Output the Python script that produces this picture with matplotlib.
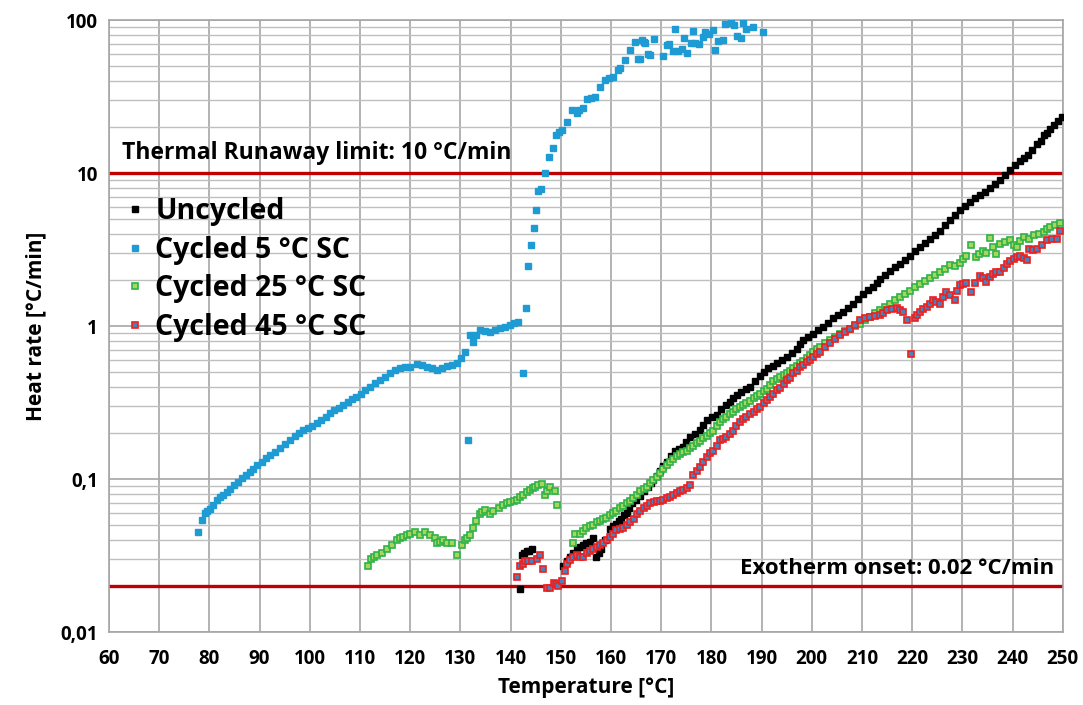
import numpy as np
import matplotlib
matplotlib.use("Agg")
import matplotlib.pyplot as plt

plt.rcParams['font.family'] = ['Open Sans', 'DejaVu Sans']
plt.rcParams['font.weight'] = 'bold'

# Cycled 5 degC SC (blue)
t_c5 = [77.8, 78.5, 79.1, 79.6, 80.1, 80.8, 81.5, 82.2, 82.8, 83.5, 84.1, 84.9, 85.8, 86.6, 87.4,
        88.0, 88.7, 89.5, 90.4, 91.2, 92.1, 93.1, 94.1, 95.1, 96.1, 97.0, 97.8, 98.7, 99.6, 100.5,
        101.4, 102.3, 103.2, 104.0, 104.9, 105.8, 106.7, 107.6, 108.4, 109.3, 110.2, 111.1, 112.0,
        113.0, 114.0, 115.0, 116.0, 117.0, 118.0, 119.0, 120.0, 121.3, 122.3, 123.3, 124.3, 125.3,
        126.3, 127.3, 128.3, 129.3, 130.2, 130.9, 131.6, 131.9, 132.6, 133.2, 133.9, 134.9, 135.9,
        136.9, 137.9, 138.9, 139.9, 140.7, 141.5, 142.5, 143.1, 143.5, 144.1, 144.6, 145.1, 145.5,
        146.1, 146.9, 147.7, 148.5, 149.0, 149.6, 150.2, 151.2, 152.2, 153.2, 153.7, 154.5, 155.2,
        156.0, 156.8, 157.8, 158.8, 159.6, 160.5, 161.5, 161.8, 162.8, 163.8, 164.8, 165.4, 165.8,
        166.1, 166.5, 166.8, 167.4, 167.8, 168.6, 170.4, 171.1, 171.6, 172.3, 172.7, 173.4, 174.1,
        174.6, 175.1, 175.9, 176.3, 176.7, 177.5, 178.3, 178.7, 179.5, 180.4, 180.7, 181.4, 182.3,
        182.7, 184.0, 184.5, 185.2, 185.9, 186.4, 186.9, 188.2, 190.3]
r_c5 = [0.045, 0.054, 0.060, 0.062, 0.064, 0.068, 0.073, 0.076, 0.079, 0.082, 0.086, 0.091, 0.096,
        0.101, 0.106, 0.111, 0.117, 0.123, 0.130, 0.137, 0.143, 0.151, 0.159, 0.169, 0.180, 0.190,
        0.199, 0.209, 0.216, 0.223, 0.231, 0.243, 0.256, 0.269, 0.281, 0.293, 0.305, 0.318, 0.331,
        0.345, 0.362, 0.381, 0.401, 0.422, 0.443, 0.467, 0.491, 0.513, 0.530, 0.537, 0.543, 0.565,
        0.556, 0.543, 0.528, 0.515, 0.535, 0.548, 0.558, 0.570, 0.620, 0.680, 0.180, 0.873, 0.790,
        0.880, 0.940, 0.930, 0.920, 0.945, 0.966, 0.990, 1.02, 1.04, 1.07, 0.495, 1.32, 2.47, 3.39,
        4.36, 5.73, 7.66, 7.85, 9.96, 12.7, 14.5, 17.7, 18.5, 19.1, 21.6, 25.8, 24.5, 26.0, 26.5,
        30.3, 30.8, 31.6, 36.7, 40.5, 41.5, 42.6, 47.0, 48.3, 54.8, 63.7, 72.1, 55.4, 55.4, 74.0,
        72.0, 70.4, 59.6, 59.0, 74.8, 58.4, 68.7, 69.4, 63.0, 86.9, 63.0, 64.3, 76.6, 61.2, 71.0,
        84.7, 70.4, 70.0, 77.8, 83.1, 81.0, 86.1, 63.7, 73.0, 74.0, 93.7, 96.0, 92.8, 78.6, 75.9,
        96.0, 86.9, 90.4, 83.1]

# Cycled 25 degC SC (green)
t_c25 = [111.7, 112.3, 112.8, 113.3, 114.3, 115.3, 116.3, 117.3, 118.0, 118.6, 119.3, 120.0, 121.0,
         122.0, 123.0, 124.0, 124.9, 125.3, 126.0, 126.6, 127.3, 128.3, 129.3, 130.3, 130.9, 131.4,
         131.9, 132.6, 133.2, 133.9, 134.4, 134.9, 135.9, 136.6, 137.6, 138.5, 139.2, 139.9, 140.6,
         141.2, 141.8, 142.5, 143.2, 143.9, 144.4, 144.9, 145.5, 146.2, 146.9, 147.3, 147.8, 148.8,
         149.3, 152.5, 152.8, 153.8, 154.4, 155.1, 155.8, 156.5, 157.2, 157.8, 158.4, 159.1, 159.8,
         160.5, 161.1, 161.8, 162.5, 163.1, 163.8, 164.4, 165.1, 165.8, 166.5, 167.1, 167.8, 168.4,
         169.1, 169.8, 170.4, 171.1, 171.8, 172.4, 173.1, 173.7, 174.4, 175.1, 175.7, 176.4, 177.1,
         177.7, 178.4, 179.1, 179.7, 180.4, 181.1, 181.7, 182.4, 183.0, 183.7, 184.4, 185.0, 185.7,
         186.4, 187.0, 187.7, 188.4, 189.0, 189.7, 190.4, 191.0, 191.7, 192.3, 193.0, 193.7, 194.4,
         195.0, 195.7, 196.3, 197.0, 197.7, 198.3, 199.0, 199.7, 200.3, 201.0, 201.6, 202.6, 203.6,
         204.6, 205.6, 206.6, 207.6, 208.6, 209.6, 210.6, 211.6, 212.6, 213.6, 214.6, 215.6, 216.6,
         217.6, 218.5, 219.5, 220.5, 221.5, 222.5, 223.5, 224.5, 225.5, 226.5, 227.5, 228.5, 229.5,
         230.2, 230.8, 231.8, 232.8, 233.4, 234.1, 234.8, 235.5, 236.2, 236.8, 237.5, 238.5, 239.5,
         240.2, 240.8, 241.5, 242.2, 243.2, 244.2, 245.2, 246.2, 246.9, 247.5, 248.5, 249.5]
r_c25 = [0.027, 0.030, 0.031, 0.032, 0.033, 0.035, 0.037, 0.040, 0.041, 0.042, 0.043, 0.044, 0.045,
         0.043, 0.045, 0.043, 0.041, 0.038, 0.039, 0.040, 0.038, 0.038, 0.032, 0.037, 0.040, 0.041,
         0.043, 0.048, 0.053, 0.059, 0.061, 0.063, 0.059, 0.062, 0.065, 0.068, 0.070, 0.071, 0.072,
         0.073, 0.076, 0.079, 0.082, 0.085, 0.087, 0.089, 0.091, 0.093, 0.079, 0.084, 0.089, 0.083,
         0.068, 0.038, 0.044, 0.044, 0.046, 0.048, 0.049, 0.050, 0.052, 0.053, 0.055, 0.056, 0.058,
         0.060, 0.062, 0.065, 0.067, 0.070, 0.072, 0.075, 0.079, 0.083, 0.086, 0.089, 0.094, 0.099,
         0.103, 0.109, 0.116, 0.123, 0.130, 0.136, 0.141, 0.146, 0.150, 0.153, 0.159, 0.165, 0.171,
         0.178, 0.185, 0.192, 0.199, 0.207, 0.222, 0.237, 0.246, 0.256, 0.265, 0.275, 0.286, 0.297,
         0.305, 0.312, 0.324, 0.336, 0.349, 0.362, 0.376, 0.390, 0.412, 0.436, 0.450, 0.462, 0.478,
         0.494, 0.505, 0.530, 0.550, 0.570, 0.595, 0.617, 0.650, 0.680, 0.705, 0.730, 0.770, 0.810,
         0.850, 0.892, 0.925, 0.960, 0.995, 1.03, 1.09, 1.15, 1.21, 1.27, 1.33, 1.40, 1.47,
         1.54, 1.62, 1.70, 1.79, 1.88, 1.97, 2.07, 2.15, 2.26, 2.35, 2.52, 2.45, 2.60,
         2.75, 2.89, 3.39, 2.83, 2.95, 3.07, 3.00, 3.76, 3.30, 2.95, 3.46, 3.55, 3.64,
         3.40, 3.29, 3.60, 3.84, 3.70, 3.94, 4.00, 4.14, 4.30, 4.45, 4.55, 4.70]

# Uncycled (black)
t_unc = [141.9, 142.2, 142.7, 143.2, 143.7, 144.2, 150.5, 151.2, 151.8, 152.5, 153.2, 153.8, 154.4,
         155.1, 155.8, 156.5, 157.1, 157.6, 158.1, 158.8, 159.8, 160.4, 161.1, 161.6, 162.1, 162.6,
         163.1, 163.6, 164.1, 165.0, 165.8, 166.6, 167.4, 167.9, 168.4, 169.1, 169.8, 170.4, 171.1,
         171.9, 172.7, 173.5, 174.4, 175.0, 175.7, 176.7, 177.7, 178.4, 179.1, 180.1, 181.1, 182.0,
         183.0, 183.7, 184.4, 185.2, 186.0, 186.9, 187.7, 188.7, 189.7, 190.5, 191.3, 192.2, 193.0,
         194.0, 195.0, 196.0, 197.0, 197.7, 198.3, 199.3, 200.3, 201.3, 202.3, 203.3, 204.3, 205.3,
         206.3, 207.3, 208.3, 209.3, 210.3, 211.3, 212.3, 213.0, 213.6, 214.6, 215.6, 216.6, 217.6,
         218.6, 219.5, 220.5, 221.5, 222.5, 223.5, 224.5, 225.5, 226.5, 227.5, 228.5, 229.5, 230.5,
         231.5, 232.5, 233.5, 234.5, 235.5, 236.5, 237.5, 238.5, 239.5, 240.5, 241.5, 242.3, 243.1,
         243.8, 244.8, 245.6, 246.2, 246.8, 247.5, 248.2, 249.0, 249.8]
r_unc = [0.019, 0.032, 0.033, 0.034, 0.034, 0.035, 0.027, 0.029, 0.031, 0.033, 0.035, 0.036, 0.037,
         0.038, 0.039, 0.041, 0.031, 0.033, 0.035, 0.040, 0.047, 0.049, 0.051, 0.053, 0.055, 0.058,
         0.060, 0.065, 0.070, 0.073, 0.077, 0.083, 0.089, 0.094, 0.099, 0.105, 0.112, 0.121, 0.130,
         0.142, 0.153, 0.157, 0.161, 0.174, 0.187, 0.197, 0.208, 0.225, 0.243, 0.253, 0.263, 0.285,
         0.306, 0.321, 0.336, 0.354, 0.372, 0.386, 0.401, 0.434, 0.469, 0.498, 0.530, 0.550, 0.571,
         0.600, 0.630, 0.670, 0.713, 0.760, 0.810, 0.850, 0.892, 0.940, 0.990, 1.05, 1.12, 1.18,
         1.24, 1.32, 1.40, 1.51, 1.63, 1.71, 1.80, 1.92, 2.04, 2.17, 2.30, 2.42, 2.55,
         2.72, 2.89, 3.08, 3.28, 3.49, 3.71, 3.95, 4.21, 4.55, 4.90, 5.30, 5.70, 6.10,
         6.50, 6.85, 7.20, 7.55, 7.95, 8.45, 9.00, 9.75, 10.5, 11.2, 11.9, 12.5, 13.1,
         14.2, 15.5, 16.3, 17.7, 18.3, 19.4, 20.5, 21.8, 23.2]

# Cycled 45 degC SC (red)
t_c45 = [141.2, 141.9, 142.4, 142.9, 143.5, 144.2, 145.2, 145.9, 146.4, 147.2, 147.8, 148.6, 149.1,
         149.5, 150.3, 150.8, 151.3, 151.8, 152.5, 153.2, 153.8, 154.5, 155.2, 155.8, 156.5, 157.2,
         157.8, 158.5, 159.2, 159.8, 160.5, 161.1, 161.8, 162.5, 163.1, 163.8, 164.5, 165.1, 165.8,
         166.5, 167.1, 167.8, 168.5, 169.1, 169.8, 170.4, 171.1, 171.8, 172.4, 173.1, 173.7, 174.4,
         175.1, 175.7, 176.4, 177.1, 177.7, 178.4, 179.1, 179.7, 180.4, 181.1, 181.7, 182.4, 183.0,
         183.7, 184.4, 185.0, 185.7, 186.4, 187.0, 187.7, 188.4, 189.0, 189.7, 190.4, 191.0, 191.7,
         192.3, 193.0, 193.7, 194.4, 195.0, 195.7, 196.3, 197.0, 197.7, 198.3, 199.0, 199.7, 200.3,
         201.0, 201.6, 202.6, 203.6, 204.6, 205.6, 206.6, 207.6, 208.6, 209.6, 210.6, 211.6, 212.6,
         213.6, 214.2, 214.9, 215.9, 216.9, 217.5, 218.2, 218.9, 219.7, 220.6, 221.0, 221.5, 222.2,
         222.9, 223.5, 224.2, 224.8, 225.5, 226.2, 226.8, 227.5, 228.5, 229.0, 229.5, 230.2, 230.8,
         231.8, 232.6, 233.5, 234.2, 234.8, 235.5, 236.2, 236.8, 237.5, 238.2, 238.8, 239.5, 240.2,
         240.8, 241.5, 242.2, 242.8, 243.2, 244.0, 244.8, 245.8, 246.8, 247.8, 248.9, 249.5]
r_c45 = [0.023, 0.027, 0.028, 0.029, 0.029, 0.029, 0.030, 0.032, 0.026, 0.0195, 0.0195, 0.021, 0.0205,
         0.020, 0.0215, 0.025, 0.028, 0.0296, 0.031, 0.0317, 0.031, 0.031, 0.033, 0.0338, 0.035, 0.0358,
         0.037, 0.0384, 0.040, 0.042, 0.044, 0.0466, 0.047, 0.048, 0.050, 0.052, 0.055, 0.059, 0.062,
         0.0647, 0.067, 0.070, 0.071, 0.0714, 0.072, 0.0731, 0.075, 0.0767, 0.079, 0.0807, 0.083, 0.085,
         0.088, 0.092, 0.106, 0.112, 0.120, 0.130, 0.140, 0.147, 0.153, 0.165, 0.180, 0.183, 0.187,
         0.197, 0.2075, 0.222, 0.237, 0.246, 0.2555, 0.265, 0.275, 0.286, 0.297, 0.313, 0.330, 0.345,
         0.362, 0.380, 0.395, 0.420, 0.443, 0.456, 0.490, 0.510, 0.540, 0.560, 0.580, 0.600, 0.631,
         0.655, 0.680, 0.725, 0.770, 0.820, 0.873, 0.915, 0.960, 1.02, 1.09, 1.12, 1.15, 1.16,
         1.18, 1.22, 1.27, 1.29, 1.31, 1.27, 1.24, 1.09, 0.66, 1.12, 1.18, 1.24, 1.29,
         1.34, 1.40, 1.48, 1.44, 1.40, 1.55, 1.67, 1.60, 1.48, 1.70, 1.85, 1.88, 1.90,
         1.67, 1.90, 2.11, 2.05, 1.95, 2.10, 2.20, 2.25, 2.26, 2.40, 2.55, 2.65, 2.76,
         2.82, 2.89, 2.80, 2.69, 3.21, 3.15, 3.21, 3.40, 3.64, 3.70, 3.73, 4.20]

runaway_limit = 10
onset_limit = 0.02

fig = plt.figure(figsize=(10.83, 7.05), dpi=100)
ax = fig.add_axes([0.1006, 0.1035, 0.8807, 0.8681])

ms = 4.2
ax.plot(t_unc, r_unc, 's', ms=ms, color='black', mec='black', label='Uncycled', zorder=3)
ax.plot(t_c5, r_c5, 's', ms=ms, color='#1f9bd4', mec='#1f9bd4', label='Cycled 5 °C SC', zorder=3)
ax.plot(t_c25, r_c25, 's', ms=ms, mfc='#a6d75b', mec='#2fb24a', mew=1.2, label='Cycled 25 °C SC', zorder=3)
ax.plot(t_c45, r_c45, 's', ms=ms, mfc='#4d7fb8', mec='#f01e1e', mew=1.2, label='Cycled 45 °C SC', zorder=3)

ax.axhline(runaway_limit, color='#c00000', lw=2.4, zorder=2)
ax.axhline(onset_limit, color='#c00000', lw=2.4, zorder=2)

ax.set_yscale('log')
ax.set_xlim(60, 250)
ax.set_ylim(0.01, 100)
ax.set_xticks(np.arange(60, 251, 10))
ax.set_yticks([0.01, 0.1, 1, 10, 100])
ax.set_yticklabels(['0,01', '0,1', '1', '10', '100'])
ax.yaxis.set_minor_locator(matplotlib.ticker.LogLocator(base=10, subs=np.arange(2, 10)))
ax.yaxis.set_minor_formatter(matplotlib.ticker.NullFormatter())
ax.tick_params(which='both', length=0, labelsize=13.5, pad=8)
ax.tick_params(axis='x', pad=12)
for lab in ax.get_xticklabels() + ax.get_yticklabels():
    lab.set_fontweight('bold')

ax.grid(which='major', color='#a6a6a6', lw=1.2)
ax.grid(which='minor', axis='y', color='#bfbfbf', lw=1.0)
ax.set_axisbelow(True)
for s in ax.spines.values():
    s.set_color('#a6a6a6')
    s.set_linewidth(1.2)

ax.set_xlabel('Temperature [°C]', fontsize=15, fontweight='bold', labelpad=6)
ax.set_ylabel('Heat rate [°C/min]', fontsize=15, fontweight='bold', labelpad=10)

ax.text(62.6, 11.3, 'Thermal Runaway limit: 10 °C/min', fontsize=16.5, fontweight='bold', va='bottom')
ax.text(248.3, 0.0222, 'Exotherm onset: 0.02 °C/min', fontsize=16, fontweight='bold', ha='right', va='bottom')

leg = ax.legend(loc='upper left', bbox_to_anchor=(-0.008, 0.752), frameon=False, fontsize=20.5,
                handlelength=0.6, handletextpad=0.4, labelspacing=0.33, markerscale=1.0)
for t in leg.get_texts():
    t.set_fontweight('bold')

fig.savefig('out.png', dpi=100)
